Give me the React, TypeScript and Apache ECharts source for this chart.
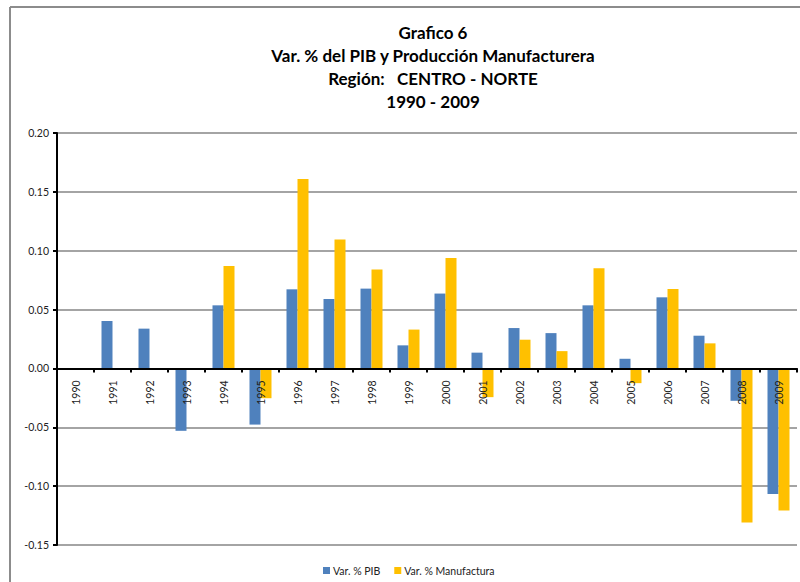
import React, { useEffect, useRef } from "react";
import * as echarts from "echarts";

const years = ["1990","1991","1992","1993","1994","1995","1996","1997","1998","1999","2000","2001","2002","2003","2004","2005","2006","2007","2008","2009"];
const pib = [0, 0.0403, 0.0338, -0.053, 0.0536, -0.0477, 0.0672, 0.059, 0.0678, 0.0196, 0.0636, 0.0134, 0.0343, 0.030, 0.0536, 0.0082, 0.0604, 0.0278, -0.0275, -0.1066];
const manuf = [0, 0, 0, 0, 0.087, -0.0253, 0.161, 0.1095, 0.084, 0.033, 0.0939, -0.0244, 0.0244, 0.0147, 0.0851, -0.0125, 0.0675, 0.0213, -0.1308, -0.1206];
const titleLines = ["Grafico 6", "Var. % del PIB y Producción Manufacturera", "Región:   CENTRO - NORTE", "1990 - 2009"];
const seriesNames = ["Var. % PIB", "Var. % Manufactura"];
const yMin = -0.15;
const yMax = 0.2;

export default function App() {
  const ref = useRef<HTMLDivElement>(null);
  useEffect(() => {
    document.body.style.margin = "0";
    const chart = echarts.init(ref.current!, null, { renderer: "svg" });
    const font = "Lato, 'Open Sans', sans-serif";
    const gridTop = 133;
    const gridBottom = 37;
    const plotH = 582 - gridTop - gridBottom;
    const zeroOffset = -(plotH * (0 - yMin)) / (yMax - yMin);
    chart.setOption({
      animation: false,
      backgroundColor: "#ffffff",
      textStyle: { fontFamily: font },
      title: {
        text: titleLines.join("\n"),
        left: 428,
        top: 16,
        textAlign: "center",
        textStyle: { fontFamily: font, fontSize: 17, fontWeight: "bold", color: "#000", lineHeight: 23 },
      },
      graphic: [
        { type: "line", shape: { x1: 10, y1: 7, x2: 800, y2: 7 }, style: { stroke: "#8c8c8c", lineWidth: 2 } },
        { type: "line", shape: { x1: 10, y1: 7, x2: 10, y2: 582 }, style: { stroke: "#8c8c8c", lineWidth: 2 } },
      ],
      legend: {
        data: seriesNames,
        left: 318,
        top: 560,
        itemWidth: 7,
        itemHeight: 7,
        itemGap: 14,
        icon: "rect",
        textStyle: { fontFamily: font, fontSize: 10.5, color: "#222", padding: [0, 0, 0, -2] },
      },
      grid: { left: 57, right: 3, top: gridTop, bottom: gridBottom },
      xAxis: {
        type: "category",
        data: years,
        z: 5,
        position: "bottom",
        offset: zeroOffset,
        axisLine: { onZero: false, lineStyle: { color: "#000", width: 2 } },
        axisTick: { show: true, alignWithLabel: false, length: 4, lineStyle: { color: "#000", width: 2 } },
        axisLabel: { rotate: 90, fontSize: 10.5, color: "#222", margin: 12, fontFamily: font, interval: 0 },
        splitLine: { show: false },
      },
      yAxis: {
        type: "value",
        min: yMin,
        max: yMax,
        interval: 0.05,
        axisLine: { show: true, lineStyle: { color: "#000", width: 2 } },
        axisTick: { show: true, length: 4, lineStyle: { color: "#000", width: 2 } },
        axisLabel: { fontSize: 10.5, color: "#222", margin: 8, fontFamily: font, formatter: (v: number) => v.toFixed(2) },
        splitLine: { show: true, lineStyle: { color: "#868686", width: 1.5 } },
      },
      series: [
        { name: seriesNames[0], type: "bar", data: pib, barWidth: 11, barGap: "0%", itemStyle: { color: "#4F81BD" } },
        { name: seriesNames[1], type: "bar", data: manuf, barWidth: 11, barGap: "0%", itemStyle: { color: "#FFC000" } },
      ],
    });
    return () => chart.dispose();
  }, []);
  return <div ref={ref} style={{ width: 800, height: 582 }} />;
}
